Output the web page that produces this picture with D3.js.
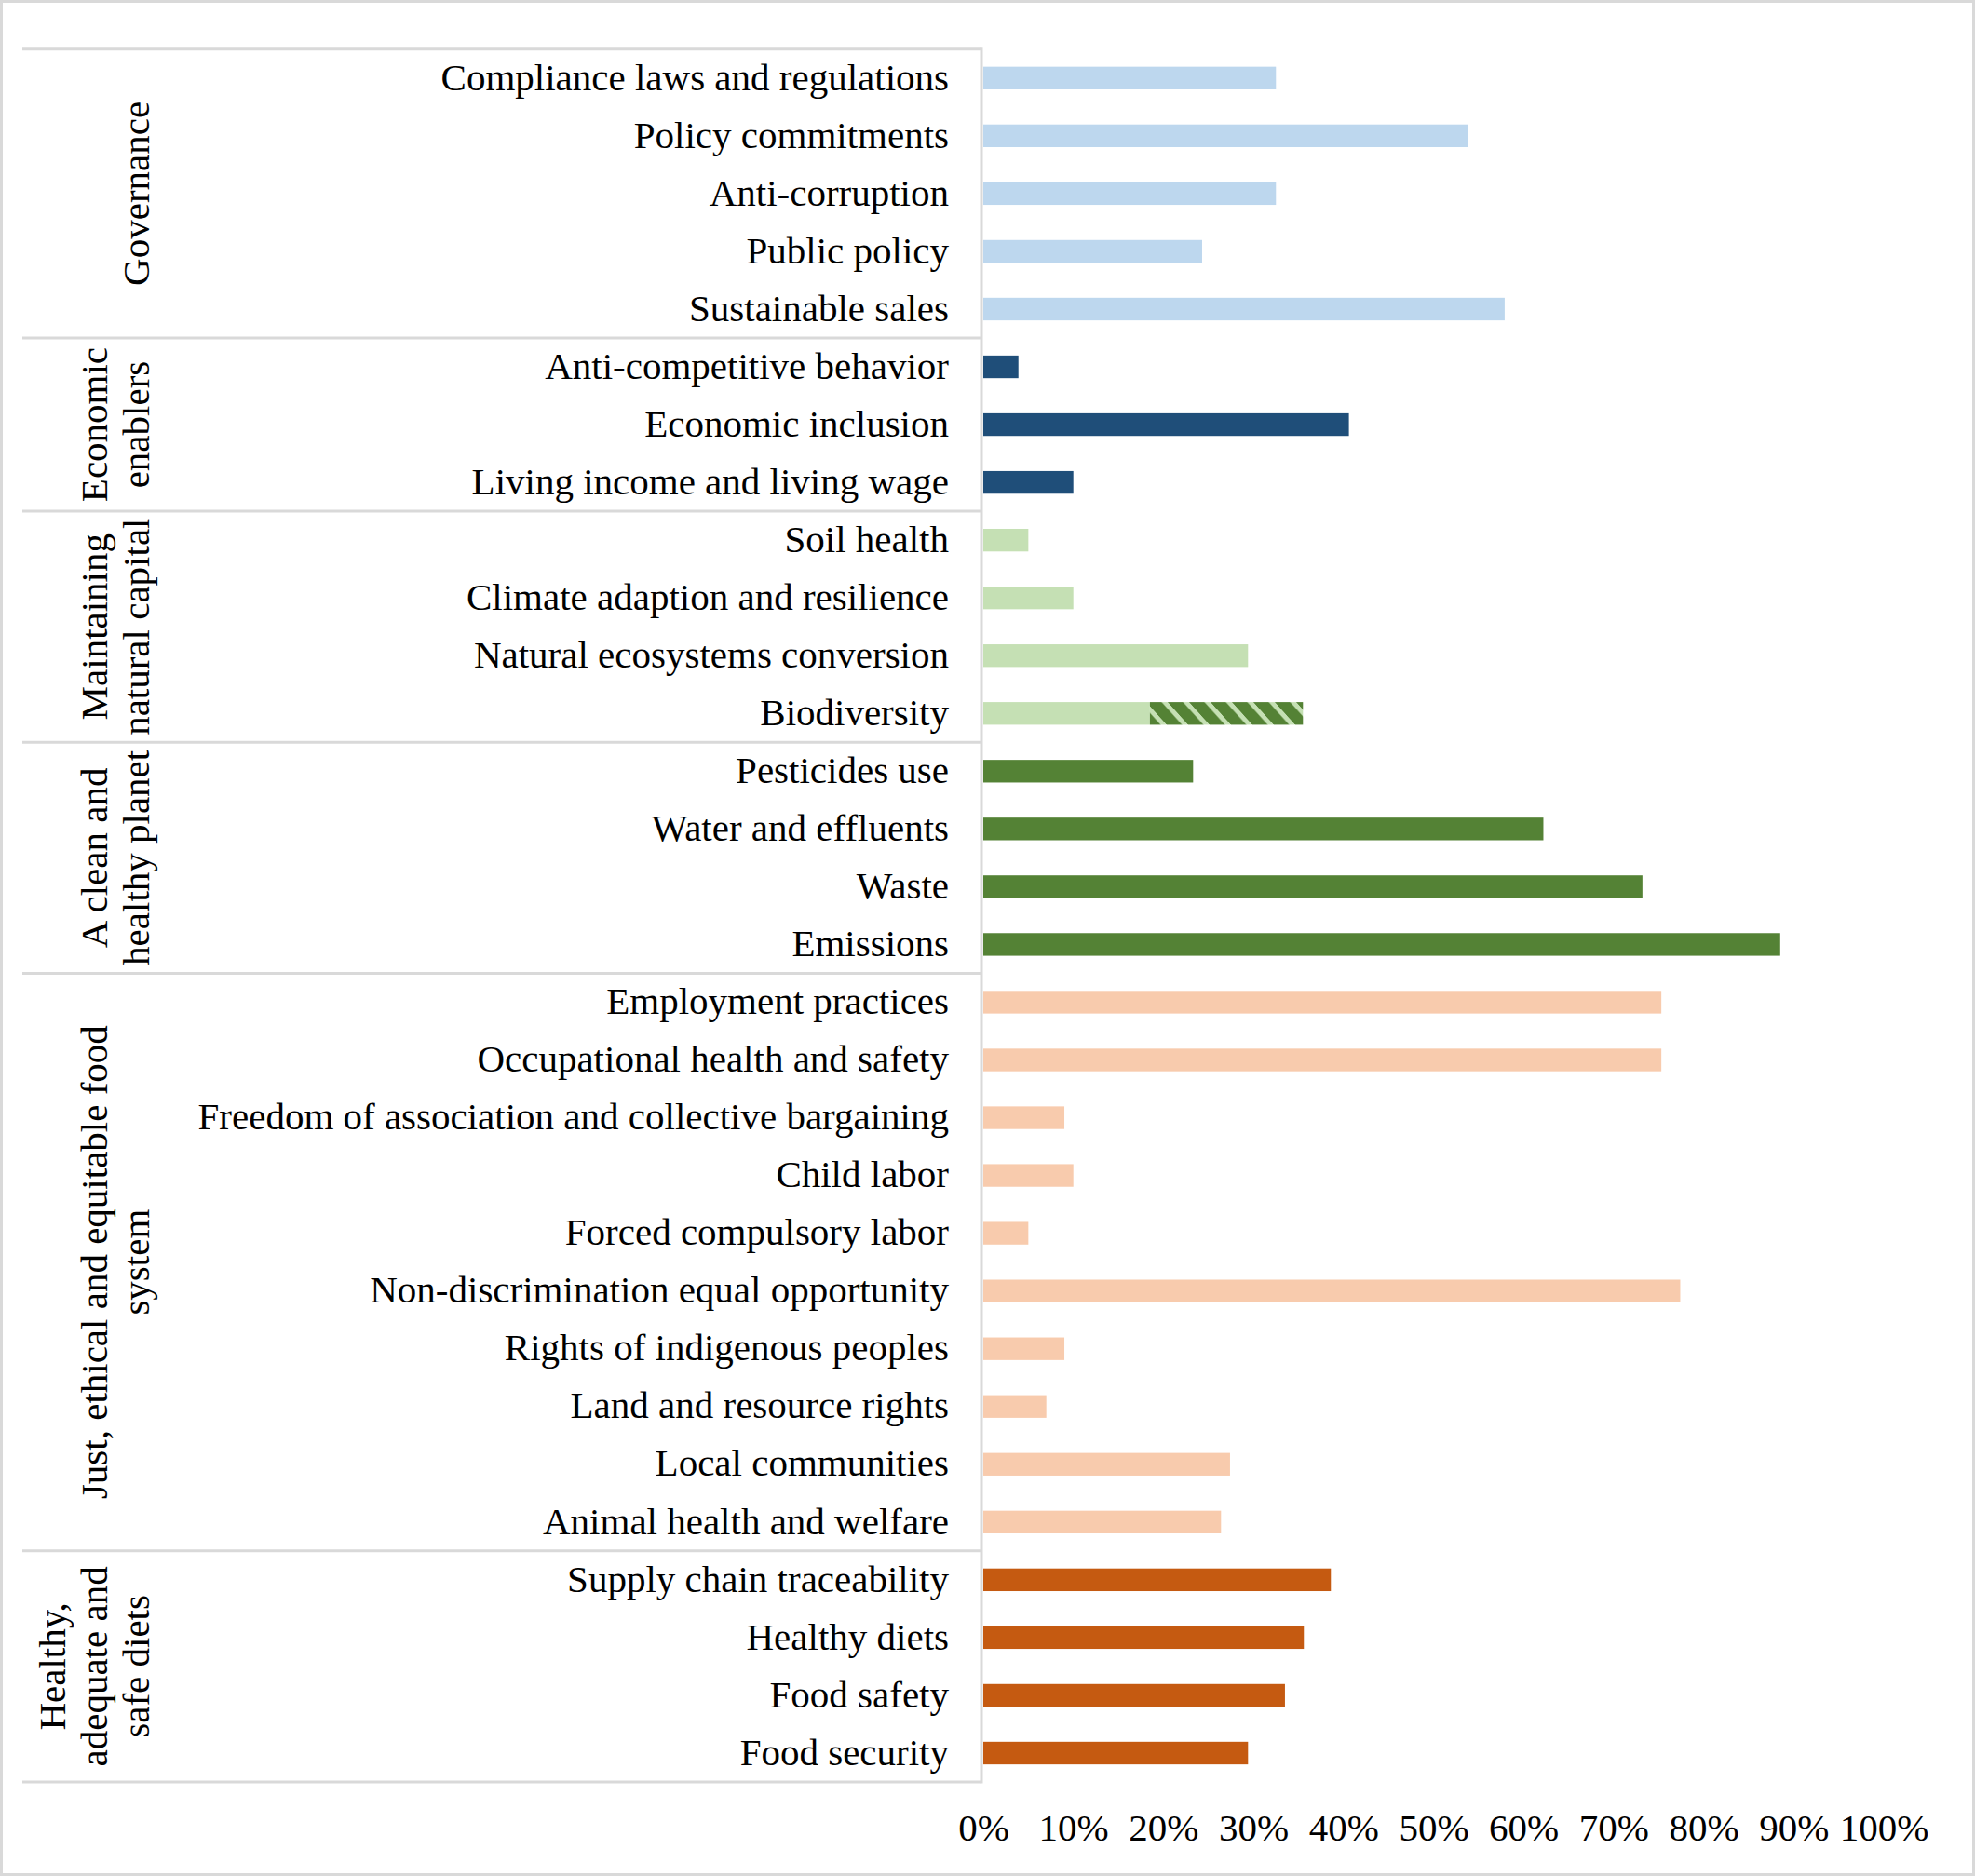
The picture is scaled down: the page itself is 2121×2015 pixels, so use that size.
<!DOCTYPE html>
<html>
<head>
<meta charset="utf-8">
<script src="https://cdn.jsdelivr.net/npm/d3@7"></script>
<style>
  body { margin: 0; background: #fff; }
  text { font-family: "Liberation Serif", "Times New Roman", serif; fill: #000; }
</style>
</head>
<body>
<svg id="chart"></svg>
<script>
// group names (one entry per printed line)
var groupNames = [
  ["Governance"],
  ["Economic", "enablers"],
  ["Maintaining", "natural capital"],
  ["A clean and", "healthy planet"],
  ["Just, ethical and equitable food", "system"],
  ["Healthy,", "adequate and", "safe diets"]
];

var categories = [
  "Compliance laws and regulations", "Policy commitments", "Anti-corruption", "Public policy", "Sustainable sales",
  "Anti-competitive behavior", "Economic inclusion", "Living income and living wage",
  "Soil health", "Climate adaption and resilience", "Natural ecosystems conversion", "Biodiversity",
  "Pesticides use", "Water and effluents", "Waste", "Emissions",
  "Employment practices", "Occupational health and safety", "Freedom of association and collective bargaining",
  "Child labor", "Forced compulsory labor", "Non-discrimination equal opportunity", "Rights of indigenous peoples",
  "Land and resource rights", "Local communities", "Animal health and welfare",
  "Supply chain traceability", "Healthy diets", "Food safety", "Food security"
];

// which group each category belongs to
var categoryGroup = [0,0,0,0,0, 1,1,1, 2,2,2,2, 3,3,3,3, 4,4,4,4,4,4,4,4,4,4, 5,5,5,5];

// share of companies, in percent
var values = [
  32.5, 53.8, 32.5, 24.3, 57.9,
  3.9, 40.6, 10.0,
  5.0, 10.0, 29.4, 18.5,
  23.3, 62.2, 73.2, 88.5,
  75.3, 75.3, 9.0, 10.0, 5.0, 77.4, 9.0, 7.0, 27.4, 26.4,
  38.6, 35.6, 33.5, 29.4
];

// extra hatched part stacked on top of the base bar
var hatchedCategories = ["Biodiversity"];
var hatchedValues = [17.0];

var tickValues = [0, 10, 20, 30, 40, 50, 60, 70, 80, 90, 100];

var groupColors = ["#bdd7ee", "#1f4e79", "#c5e0b4", "#548235", "#f8cbad", "#c55a11"];

var W = 2121, H = 2015;
var svg = d3.select("#chart").attr("width", W).attr("height", H);

svg.append("rect").attr("width", W).attr("height", H).attr("fill", "#fff");

// hatch: wide dark green downward diagonals on light green
var defs = svg.append("defs");
var pat = defs.append("pattern")
  .attr("id", "hatch")
  .attr("patternUnits", "userSpaceOnUse")
  .attr("width", 23).attr("height", 60)
  .attr("patternTransform", "skewX(42)");
pat.append("rect").attr("width", 23).attr("height", 60).attr("fill", "#c5e0b4");
pat.append("rect").attr("width", 16.5).attr("height", 60).attr("fill", "#548235");

var plotTop = 52.8, plotBottom = 1914;
var divX = 1054, tableLeft = 24;

var x = d3.scaleLinear().domain([0, 100]).range([1056, 2023]);
var y = d3.scaleBand().domain(categories).range([plotTop, plotBottom])
  .paddingInner(0.608).paddingOuter(0.304);

var fs = 41;

// bars
svg.append("g").selectAll("rect.bar")
  .data(categories)
  .join("rect")
  .attr("class", "bar")
  .attr("x", x(0))
  .attr("y", function(d) { return y(d); })
  .attr("width", function(d, i) { return x(values[i]) - x(0); })
  .attr("height", y.bandwidth())
  .attr("fill", function(d, i) { return groupColors[categoryGroup[i]]; });

svg.append("g").selectAll("rect.hatch")
  .data(hatchedCategories)
  .join("rect")
  .attr("class", "hatch")
  .attr("x", function(d) { return x(values[categories.indexOf(d)]); })
  .attr("y", function(d) { return y(d); })
  .attr("width", function(d, i) {
    var base = values[categories.indexOf(d)];
    return x(base + hatchedValues[i]) - x(base);
  })
  .attr("height", y.bandwidth())
  .attr("fill", "url(#hatch)");

// category labels
svg.append("g").selectAll("text")
  .data(categories)
  .join("text")
  .attr("x", 1019)
  .attr("y", function(d) { return y(d) + y.bandwidth() / 2; })
  .attr("dy", "0.31em")
  .attr("text-anchor", "end")
  .attr("font-size", fs)
  .text(function(d) { return d; });

// table lines
var lineColor = "#d9d9d9";
var boundaries = [plotTop];
categoryGroup.forEach(function(g, i) {
  if (i === categoryGroup.length - 1 || categoryGroup[i + 1] !== g) {
    boundaries.push(y(categories[i]) + y.bandwidth() / 2 + y.step() / 2);
  }
});
svg.append("g").selectAll("line")
  .data(boundaries)
  .join("line")
  .attr("x1", tableLeft).attr("x2", divX)
  .attr("y1", function(d) { return d; }).attr("y2", function(d) { return d; })
  .attr("stroke", lineColor).attr("stroke-width", 3);
svg.append("line")
  .attr("x1", divX).attr("x2", divX).attr("y1", plotTop - 1.5).attr("y2", plotBottom + 1.5)
  .attr("stroke", lineColor).attr("stroke-width", 3);

// group labels, rotated, last line aligned to the same column
var lastLineX = 146, lineGap = 45;
groupNames.forEach(function(lines, g) {
  var cy = (boundaries[g] + boundaries[g + 1]) / 2;
  var n = lines.length;
  svg.append("g").selectAll("text")
    .data(lines)
    .join("text")
    .attr("transform", function(d, i) {
      return "translate(" + (lastLineX - lineGap * (n - 1 - i)) + "," + cy + ") rotate(-90)";
    })
    .attr("dy", "0.35em")
    .attr("text-anchor", "middle")
    .attr("font-size", fs)
    .text(function(d) { return d; });
});

// x axis labels
var axis = d3.axisBottom(x)
  .tickValues(tickValues)
  .tickSize(0)
  .tickFormat(function(d) { return d + "%"; });
var ax = svg.append("g").attr("transform", "translate(0,1963)").call(axis);
ax.select(".domain").remove();
ax.selectAll("text")
  .attr("y", 0).attr("dy", "0.35em")
  .attr("font-size", fs)
  .attr("font-family", "Liberation Serif")
  .attr("fill", "#000");

// outer frame
svg.append("rect")
  .attr("x", 1.5).attr("y", 1.5).attr("width", W - 3).attr("height", H - 3)
  .attr("fill", "none").attr("stroke", lineColor).attr("stroke-width", 3);
</script>
</body>
</html>
